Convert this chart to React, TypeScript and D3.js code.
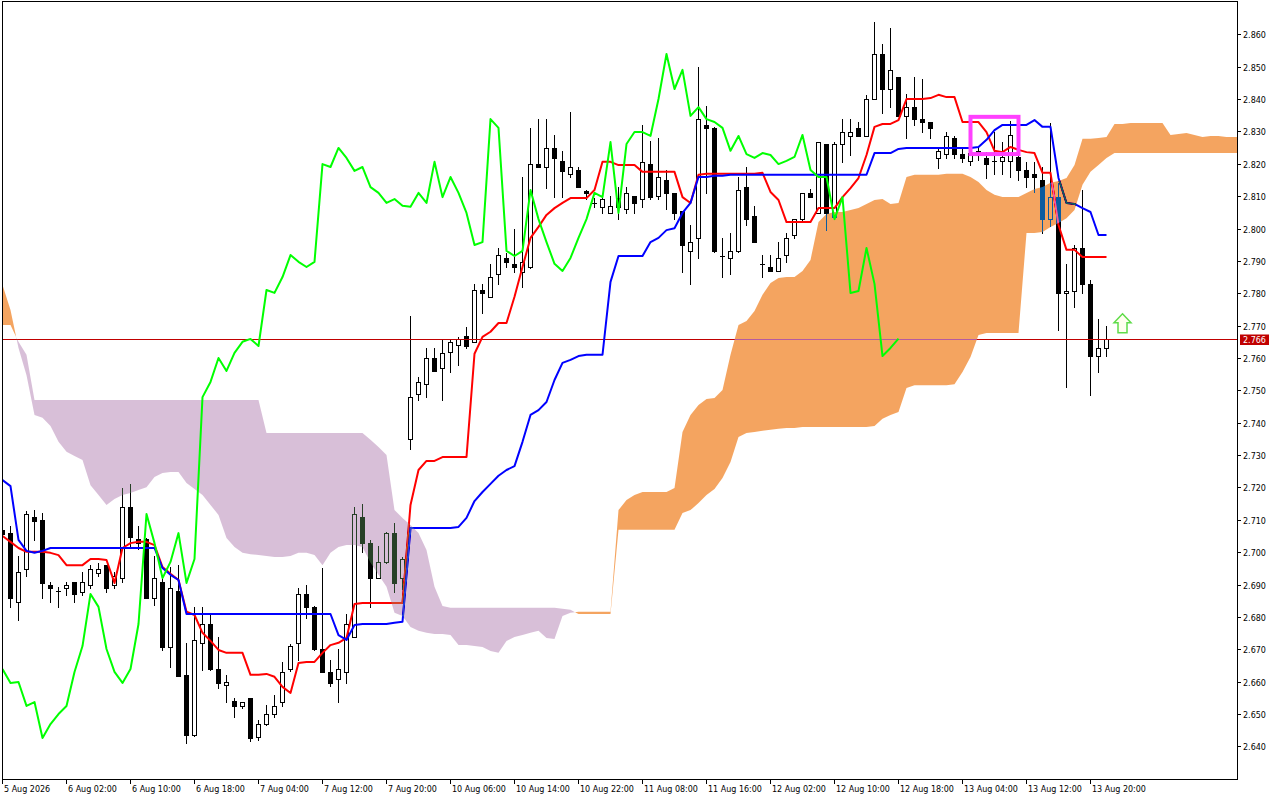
import * as d3 from 'd3';

// H1 candles (bar 0 = 5 Aug 2026 18:00)
const opens = [
  2.7069, 2.7059, 2.6846, 2.6948, 2.7109, 2.7100, 2.6899, 2.6880, 2.6889, 2.6908,
  2.6877, 2.6899, 2.6936, 2.6960, 2.6899, 2.6920, 2.7140, 2.7041, 2.7041, 2.6859,
  2.6908, 2.6707, 2.6880, 2.6621, 2.6435, 2.6720, 2.6778, 2.6639, 2.6590, 2.6541,
  2.6525, 2.6550, 2.6429, 2.6469, 2.6500, 2.6537, 2.6639, 2.6720, 2.6871, 2.6831,
  2.6701, 2.6630, 2.6608, 2.6630, 2.6738, 2.7109, 2.7028, 2.6920, 2.6970, 2.7059,
  2.6920, 2.7350, 2.7489, 2.7519, 2.7600, 2.7569, 2.7619, 2.7640, 2.7668, 2.7650,
  2.7810, 2.7789, 2.7860, 2.7909, 2.7891, 2.7866, 2.7881, 2.8199, 2.8190, 2.8249,
  2.8209, 2.8169, 2.8181, 2.8116, 2.8079, 2.8067, 2.8048, 2.8094, 2.8060, 2.8101,
  2.8091, 2.8199, 2.8101, 2.8150, 2.8110, 2.8054, 2.7931, 2.7971, 2.8320, 2.8311,
  2.7915, 2.7909, 2.7931, 2.8128, 2.8039, 2.7891, 2.7881, 2.7869, 2.7918, 2.7980,
  2.8029, 2.8110, 2.8048, 2.8261, 2.8035, 2.8261, 2.8286, 2.8311, 2.8286, 2.8400,
  2.8539, 2.8431, 2.8468, 2.8348, 2.8375, 2.8338, 2.8329, 2.8218, 2.8230, 2.8280,
  2.8230, 2.8209, 2.8240, 2.8218, 2.8209, 2.8209, 2.8209, 2.8221, 2.8181, 2.8169,
  2.8150, 2.8029, 2.8097, 2.7801, 2.7807, 2.7940, 2.7829, 2.7606, 2.7631,
];
const highs = [
  2.7081, 2.7081, 2.6988, 2.7127, 2.7130, 2.7121, 2.6908, 2.6893, 2.6908, 2.6908,
  2.6939, 2.6960, 2.6967, 2.6960, 2.6939, 2.7198, 2.7211, 2.7081, 2.7044, 2.6988,
  2.6923, 2.6954, 2.6960, 2.6720, 2.6831, 2.6831, 2.6806, 2.6738, 2.6621, 2.6550,
  2.6537, 2.6550, 2.6482, 2.6528, 2.6559, 2.6661, 2.6717, 2.6889, 2.6899, 2.6834,
  2.6951, 2.6667, 2.6701, 2.6809, 2.7140, 2.7149, 2.7038, 2.7019, 2.7062, 2.7090,
  2.6985, 2.7730, 2.7541, 2.7631, 2.7631, 2.7659, 2.7659, 2.7665, 2.7696, 2.7829,
  2.7829, 2.7891, 2.7940, 2.7925, 2.7998, 2.8159, 2.8311, 2.8338, 2.8338, 2.8289,
  2.8240, 2.8360, 2.8190, 2.8119, 2.8094, 2.8104, 2.8101, 2.8128, 2.8128, 2.8101,
  2.8320, 2.8270, 2.8280, 2.8181, 2.8110, 2.8054, 2.8011, 2.8499, 2.8379, 2.8314,
  2.7971, 2.7986, 2.8159, 2.8190, 2.8070, 2.7918, 2.7918, 2.7958, 2.7986, 2.8029,
  2.8110, 2.8122, 2.8267, 2.8261, 2.8267, 2.8338, 2.8338, 2.8329, 2.8413, 2.8638,
  2.8570, 2.8619, 2.8468, 2.8416, 2.8468, 2.8462, 2.8329, 2.8246, 2.8298, 2.8286,
  2.8249, 2.8249, 2.8252, 2.8236, 2.8298, 2.8267, 2.8332, 2.8258, 2.8206, 2.8206,
  2.8190, 2.8326, 2.8141, 2.7891, 2.7949, 2.8119, 2.7841, 2.7721, 2.7699,
];
const lows = [
  2.7050, 2.6831, 2.6791, 2.6926, 2.7038, 2.6859, 2.6846, 2.6831, 2.6868, 2.6846,
  2.6868, 2.6889, 2.6926, 2.6877, 2.6889, 2.6908, 2.7016, 2.7010, 2.6859, 2.6837,
  2.6698, 2.6646, 2.6618, 2.6411, 2.6432, 2.6636, 2.6636, 2.6581, 2.6537, 2.6491,
  2.6519, 2.6417, 2.6420, 2.6466, 2.6491, 2.6525, 2.6633, 2.6667, 2.6797, 2.6698,
  2.6630, 2.6587, 2.6537, 2.6596, 2.6738, 2.7001, 2.6831, 2.6920, 2.6967, 2.6877,
  2.6886, 2.7319, 2.7470, 2.7479, 2.7560, 2.7470, 2.7557, 2.7578, 2.7631, 2.7650,
  2.7739, 2.7789, 2.7829, 2.7881, 2.7866, 2.7820, 2.7878, 2.8190, 2.8125, 2.8097,
  2.8097, 2.8159, 2.8128, 2.8091, 2.8067, 2.8048, 2.8048, 2.8029, 2.8048, 2.8048,
  2.8067, 2.8091, 2.8091, 2.8060, 2.8029, 2.7866, 2.7829, 2.7909, 2.8110, 2.7928,
  2.7850, 2.7860, 2.7928, 2.8011, 2.7958, 2.7850, 2.7869, 2.7869, 2.7897, 2.7971,
  2.8020, 2.8097, 2.8048, 2.7995, 2.8035, 2.8206, 2.8227, 2.8286, 2.8286, 2.8400,
  2.8357, 2.8375, 2.8348, 2.8280, 2.8320, 2.8298, 2.8280, 2.8187, 2.8218, 2.8218,
  2.8206, 2.8196, 2.8212, 2.8156, 2.8169, 2.8169, 2.8159, 2.8150, 2.8128, 2.8113,
  2.7986, 2.8008, 2.7687, 2.7510, 2.7758, 2.7801, 2.7486, 2.7557, 2.7606,
];
const closes = [
  2.7056, 2.6859, 2.6939, 2.7118, 2.7097, 2.6905, 2.6889, 2.6880, 2.6899, 2.6871,
  2.6908, 2.6948, 2.6948, 2.6889, 2.6926, 2.7140, 2.7047, 2.7028, 2.6859, 2.6920,
  2.6707, 2.6889, 2.6618, 2.6435, 2.6729, 2.6778, 2.6639, 2.6596, 2.6599, 2.6525,
  2.6537, 2.6426, 2.6469, 2.6500, 2.6525, 2.6630, 2.6710, 2.6871, 2.6831, 2.6701,
  2.6630, 2.6596, 2.6639, 2.6778, 2.7118, 2.7028, 2.6920, 2.6970, 2.7059, 2.6905,
  2.6979, 2.7479, 2.7526, 2.7600, 2.7560, 2.7616, 2.7650, 2.7659, 2.7637, 2.7810,
  2.7801, 2.7850, 2.7918, 2.7897, 2.7881, 2.7897, 2.8199, 2.8190, 2.8249, 2.8218,
  2.8178, 2.8190, 2.8128, 2.8110, 2.8079, 2.8091, 2.8070, 2.8067, 2.8110, 2.8079,
  2.8206, 2.8097, 2.8159, 2.8110, 2.8048, 2.7949, 2.7958, 2.8338, 2.8311, 2.7931,
  2.7915, 2.7931, 2.8119, 2.8029, 2.7958, 2.7891, 2.7869, 2.7909, 2.7971, 2.8029,
  2.8110, 2.8097, 2.8267, 2.8048, 2.8261, 2.8298, 2.8298, 2.8286, 2.8400, 2.8539,
  2.8431, 2.8490, 2.8348, 2.8375, 2.8338, 2.8329, 2.8311, 2.8240, 2.8286, 2.8230,
  2.8218, 2.8233, 2.8227, 2.8199, 2.8209, 2.8221, 2.8289, 2.8181, 2.8159, 2.8159,
  2.8029, 2.8097, 2.7801, 2.7807, 2.7940, 2.7829, 2.7606, 2.7631, 2.7660,
];

// Ichimoku lines as drawn
const tenkan = [
  2.7050, 2.7032, 2.7013, 2.7001, 2.7001, 2.7001, 2.6998, 2.6991, 2.6960, 2.6960,
  2.6960, 2.6979, 2.6979, 2.6976, 2.6905, 2.7013, 2.7028, 2.7032, 2.7032, 2.7022,
  2.6954, 2.6933, 2.6914, 2.6816, 2.6806, 2.6751, 2.6726, 2.6698, 2.6689, 2.6689,
  2.6689, 2.6621, 2.6621, 2.6624, 2.6615, 2.6584, 2.6565, 2.6658, 2.6661, 2.6661,
  2.6689, 2.6713, 2.6720, 2.6735, 2.6840, 2.6843, 2.6843, 2.6843, 2.6843, 2.6843,
  2.6843, 2.7146, 2.7254, 2.7282, 2.7282, 2.7294, 2.7294, 2.7294, 2.7294, 2.7613,
  2.7665, 2.7681, 2.7708, 2.7708, 2.7789, 2.7881, 2.7971, 2.8005, 2.8042, 2.8063,
  2.8079, 2.8094, 2.8094, 2.8094, 2.8119, 2.8206, 2.8206, 2.8196, 2.8196, 2.8196,
  2.8175, 2.8175, 2.8175, 2.8175, 2.8175, 2.8097, 2.8079, 2.8166, 2.8169, 2.8169,
  2.8169, 2.8169, 2.8169, 2.8169, 2.8169, 2.8172, 2.8113, 2.8088, 2.8020, 2.8020,
  2.8020, 2.8020, 2.8063, 2.8063, 2.8063, 2.8097, 2.8125, 2.8156, 2.8227, 2.8314,
  2.8323, 2.8323, 2.8335, 2.8400, 2.8400, 2.8400, 2.8403, 2.8413, 2.8406, 2.8406,
  2.8329, 2.8329, 2.8329, 2.8298, 2.8240, 2.8236, 2.8252, 2.8243, 2.8236, 2.8233,
  2.8172, 2.8172, 2.8011, 2.7934, 2.7934, 2.7912, 2.7912, 2.7912, 2.7912,
];
const kijun = [
  2.7223, 2.7204, 2.7038, 2.7004, 2.6998, 2.7004, 2.7013, 2.7013, 2.7013, 2.7013,
  2.7013, 2.7013, 2.7013, 2.7013, 2.7013, 2.7013, 2.7013, 2.7013, 2.7013, 2.7013,
  2.6951, 2.6930, 2.6914, 2.6809, 2.6809, 2.6809, 2.6809, 2.6809, 2.6809, 2.6809,
  2.6809, 2.6809, 2.6809, 2.6809, 2.6809, 2.6809, 2.6809, 2.6809, 2.6809, 2.6809,
  2.6809, 2.6809, 2.6744, 2.6729, 2.6775, 2.6778, 2.6778, 2.6778, 2.6778, 2.6782,
  2.6785, 2.7075, 2.7075, 2.7075, 2.7075, 2.7075, 2.7075, 2.7078, 2.7106, 2.7158,
  2.7186, 2.7211, 2.7236, 2.7254, 2.7266, 2.7341, 2.7424, 2.7439, 2.7464, 2.7532,
  2.7585, 2.7594, 2.7606, 2.7610, 2.7610, 2.7610, 2.7835, 2.7915, 2.7915, 2.7915,
  2.7915, 2.7958, 2.7971, 2.7995, 2.8001, 2.8048, 2.8079, 2.8159, 2.8159, 2.8163,
  2.8163, 2.8166, 2.8166, 2.8166, 2.8166, 2.8166, 2.8166, 2.8166, 2.8166, 2.8166,
  2.8166, 2.8166, 2.8166, 2.8166, 2.8166, 2.8166, 2.8166, 2.8166, 2.8166, 2.8233,
  2.8233, 2.8233, 2.8246, 2.8249, 2.8249, 2.8249, 2.8249, 2.8249, 2.8249, 2.8249,
  2.8249, 2.8249, 2.8252, 2.8274, 2.8304, 2.8320, 2.8320, 2.8320, 2.8320, 2.8335,
  2.8314, 2.8314, 2.8156, 2.8079, 2.8076, 2.8063, 2.8051, 2.7980, 2.7980,
];
// Senkou spans, already shifted forward (one value per bar slot on screen)
const spanA = [
  2.7826, 2.7748, 2.7631, 2.7547, 2.7424, 2.7415, 2.7390, 2.7341, 2.7310, 2.7297,
  2.7285, 2.7207, 2.7177, 2.7146, 2.7164, 2.7177, 2.7183, 2.7192, 2.7201, 2.7232,
  2.7245, 2.7248, 2.7248, 2.7214, 2.7195, 2.7177, 2.7146, 2.7115, 2.7044, 2.7016,
  2.6998, 2.6994, 2.6991, 2.6988, 2.6985, 2.6985, 2.6988, 2.6998, 2.6998, 2.6991,
  2.6960, 2.6998, 2.7016, 2.7022, 2.7022, 2.7016, 2.6967, 2.6930, 2.6893, 2.6813,
  2.6803, 2.6769, 2.6757, 2.6751, 2.6747, 2.6747, 2.6744, 2.6713, 2.6713, 2.6710,
  2.6707, 2.6695, 2.6689, 2.6726, 2.6738, 2.6744, 2.6751, 2.6757, 2.6735, 2.6732,
  2.6803, 2.6813, 2.6816, 2.6816, 2.6816, 2.6816, 2.6816, 2.7130, 2.7161, 2.7177,
  2.7186, 2.7186, 2.7186, 2.7186, 2.7198, 2.7371, 2.7424, 2.7455, 2.7473, 2.7476,
  2.7501, 2.7610, 2.7702, 2.7714, 2.7745, 2.7795, 2.7832, 2.7847, 2.7850, 2.7850,
  2.7869, 2.7903, 2.8020, 2.8045, 2.8051, 2.8051, 2.8057, 2.8063, 2.8076, 2.8088,
  2.8091, 2.8076, 2.8079, 2.8159, 2.8166, 2.8166, 2.8166, 2.8166, 2.8169, 2.8169,
  2.8169, 2.8159, 2.8144, 2.8119, 2.8104, 2.8097, 2.8097, 2.8097, 2.8110, 2.8122,
  2.8128, 2.8141, 2.8147, 2.8156, 2.8196, 2.8277, 2.8277, 2.8280, 2.8283, 2.8323,
  2.8323, 2.8326, 2.8326, 2.8326, 2.8326, 2.8326, 2.8289, 2.8292, 2.8295, 2.8289,
  2.8283, 2.8286, 2.8286, 2.8283, 2.8283, 2.8283,
];
const spanB = [
  2.7702, 2.7702, 2.7650, 2.7610, 2.7470, 2.7470, 2.7470, 2.7470, 2.7470, 2.7470,
  2.7470, 2.7470, 2.7470, 2.7470, 2.7470, 2.7470, 2.7470, 2.7470, 2.7470, 2.7470,
  2.7470, 2.7470, 2.7470, 2.7470, 2.7470, 2.7470, 2.7470, 2.7470, 2.7470, 2.7470,
  2.7470, 2.7470, 2.7470, 2.7368, 2.7368, 2.7368, 2.7368, 2.7368, 2.7368, 2.7368,
  2.7368, 2.7368, 2.7368, 2.7368, 2.7368, 2.7368, 2.7347, 2.7325, 2.7300, 2.7130,
  2.7106, 2.7084, 2.7059, 2.7007, 2.6893, 2.6834, 2.6828, 2.6828, 2.6828, 2.6828,
  2.6828, 2.6828, 2.6828, 2.6828, 2.6828, 2.6828, 2.6828, 2.6828, 2.6828, 2.6828,
  2.6825, 2.6822, 2.6809, 2.6809, 2.6809, 2.6809, 2.6809, 2.7069, 2.7069, 2.7069,
  2.7069, 2.7069, 2.7069, 2.7069, 2.7069, 2.7121, 2.7130, 2.7152, 2.7177, 2.7195,
  2.7229, 2.7279, 2.7356, 2.7368, 2.7371, 2.7375, 2.7378, 2.7381, 2.7384, 2.7384,
  2.7387, 2.7387, 2.7387, 2.7387, 2.7387, 2.7387, 2.7387, 2.7387, 2.7387, 2.7390,
  2.7412, 2.7424, 2.7433, 2.7507, 2.7516, 2.7516, 2.7516, 2.7516, 2.7516, 2.7519,
  2.7557, 2.7603, 2.7671, 2.7677, 2.7677, 2.7677, 2.7677, 2.7677, 2.7986, 2.7986,
  2.7989, 2.8005, 2.8017, 2.8032, 2.8057, 2.8135, 2.8175, 2.8196, 2.8218, 2.8233,
  2.8233, 2.8233, 2.8233, 2.8233, 2.8233, 2.8233, 2.8233, 2.8233, 2.8233, 2.8233,
  2.8233, 2.8233, 2.8233, 2.8233, 2.8233, 2.8233,
];
const CHIKOU_SHIFT = 26;

const timeLabels = [
  '5 Aug 2026', '6 Aug 02:00', '6 Aug 10:00', '6 Aug 18:00', '7 Aug 04:00', '7 Aug 12:00',
  '7 Aug 20:00', '10 Aug 06:00', '10 Aug 14:00', '10 Aug 22:00', '11 Aug 08:00', '11 Aug 16:00',
  '12 Aug 02:00', '12 Aug 10:00', '12 Aug 18:00', '13 Aug 04:00', '13 Aug 12:00', '13 Aug 20:00',
];
const BARS_PER_LABEL = 8;
const priceTicks = [
  2.64, 2.65, 2.66, 2.67, 2.68, 2.69, 2.70, 2.71, 2.72, 2.73, 2.74, 2.75,
  2.76, 2.77, 2.78, 2.79, 2.80, 2.81, 2.82, 2.83, 2.84, 2.85, 2.86,
];

// chart objects
const boxBars = [121, 127];
const boxPrices = [2.8345, 2.8230];
const arrowBar = 140;
const arrowPrice = 2.7678;

const W = 1280;
const H = 800;
const frame = { left: 2, right: 1237, top: 2, bottom: 779 };
const FONT = '"DejaVu Sans", Verdana, sans-serif';

type CloudPt = { k: number; a: number; b: number };

export default function App() {
  const x = d3.scaleLinear().domain([0, 1]).range([2.5, 10.5]);
  const y = d3.scaleLinear().domain([2.64, 2.86]).range([746.4, 34.3]);
  const py = (v: number) => Math.round(y(v)) + 0.5;

  const line = d3
    .line<number>()
    .x((_, i) => x(i))
    .y((v) => y(v));

  const chikou = closes.slice(CHIKOU_SHIFT);

  // cloud points with crossings inserted so each colour closes exactly
  const pts: CloudPt[] = [];
  spanA.forEach((a, i) => {
    const b = spanB[i];
    if (i > 0) {
      const d0 = spanA[i - 1] - spanB[i - 1];
      const d1 = a - b;
      if (d0 * d1 < 0) {
        const t = d0 / (d0 - d1);
        const v = spanA[i - 1] + t * (a - spanA[i - 1]);
        pts.push({ k: i - 1 + t, a: v, b: v });
      }
    }
    pts.push({ k: i, a, b });
  });
  const upArea = d3
    .area<CloudPt>()
    .x((d) => x(d.k))
    .y0((d) => y(d.b))
    .y1((d) => y(Math.max(d.a, d.b)));
  const downArea = d3
    .area<CloudPt>()
    .x((d) => x(d.k))
    .y0((d) => y(d.a))
    .y1((d) => y(Math.max(d.a, d.b)));

  const last = closes[closes.length - 1];
  const lastY = py(last);

  const ax = x(arrowBar);
  const ay = y(arrowPrice);
  const arrow = [
    [0, -19], [8.5, -10], [4.5, -10], [4.5, 0], [-4.5, 0], [-4.5, -10], [-8.5, -10],
  ]
    .map(([dx, dy]) => `${ax + dx},${ay + dy}`)
    .join(' ');

  return (
    <svg
      width={W}
      height={H}
      style={{ position: 'absolute', left: 0, top: 0, display: 'block' }}
      fontFamily={FONT}
    >
      <defs>
        <clipPath id="plot">
          <rect x={frame.left + 1} y={frame.top} width={frame.right - frame.left - 1} height={frame.bottom - frame.top} />
        </clipPath>
      </defs>
      <rect width={W} height={H} fill="#ffffff" />

      <g clipPath="url(#plot)">
        {/* backdrop inside the clipped group so the kumo blend has something to mix with */}
        <rect x={0} y={0} width={W} height={H} fill="#ffffff" />

        {/* candles */}
        <g shapeRendering="crispEdges">
          {opens.map((o, i) => {
            const c = closes[i];
            const cx = x(i);
            const top = py(Math.max(o, c));
            const bot = py(Math.min(o, c));
            return (
              <g key={i}>
                <line x1={cx} x2={cx} y1={Math.round(y(highs[i]))} y2={Math.round(y(lows[i])) + 1} stroke="#000" />
                {bot - top < 1 ? (
                  <line x1={cx - 2.5} x2={cx + 2.5} y1={top} y2={top} stroke="#000" />
                ) : (
                  <rect x={cx - 2} y={top} width={4} height={bot - top} fill={c >= o ? '#fff' : '#000'} stroke="#000" />
                )}
              </g>
            );
          })}
        </g>

        {/* bid line */}
        <line x1={frame.left} x2={frame.right} y1={lastY} y2={lastY} stroke="#c00000" shapeRendering="crispEdges" />

        <path d={line(tenkan) ?? ''} fill="none" stroke="#ff0000" strokeWidth={2} strokeLinejoin="round" />
        <path d={line(kijun) ?? ''} fill="none" stroke="#0000ff" strokeWidth={2} strokeLinejoin="round" />

        {/* kumo: inverted colours with difference blend, like the terminal's xor fill */}
        <path d={upArea(pts) ?? ''} fill="#0b5b9f" style={{ mixBlendMode: 'difference' }} />
        <path d={downArea(pts) ?? ''} fill="#274027" style={{ mixBlendMode: 'difference' }} />

        <path d={line(chikou) ?? ''} fill="none" stroke="#00ff00" strokeWidth={2} strokeLinejoin="round" />

        {/* objects */}
        <rect
          x={x(boxBars[0])}
          y={y(boxPrices[0])}
          width={x(boxBars[1]) - x(boxBars[0])}
          height={y(boxPrices[1]) - y(boxPrices[0])}
          fill="none"
          stroke="#ff40ff"
          strokeWidth={4}
        />
        <polygon points={arrow} fill="#fffff0" stroke="#5fdc4a" strokeWidth={1.5} strokeLinejoin="miter" />
      </g>

      {/* frame and axes */}
      <g shapeRendering="crispEdges" stroke="#000" fill="none">
        <rect x={frame.left + 0.5} y={frame.top - 0.5} width={frame.right - frame.left} height={frame.bottom - frame.top + 1} />
        {priceTicks.map((p) => (
          <line key={p} x1={frame.right} x2={frame.right + 4} y1={py(p)} y2={py(p)} />
        ))}
        {timeLabels.map((_, i) => (
          <line key={i} x1={x(i * BARS_PER_LABEL)} x2={x(i * BARS_PER_LABEL)} y1={frame.bottom} y2={frame.bottom + 5} />
        ))}
      </g>
      <g fontSize={8} fill="#000">
        {priceTicks.map((p) => (
          <text key={p} x={frame.right + 6} y={py(p) + 3}>
            {p.toFixed(3)}
          </text>
        ))}
        {timeLabels.map((t, i) => (
          <text key={t} x={x(i * BARS_PER_LABEL) + 1.5} y={792}>
            {t}
          </text>
        ))}
      </g>

      {/* last price tag */}
      <rect x={frame.right + 3} y={lastY - 5} width={29} height={10.5} fill="#c00000" />
      <text x={frame.right + 6} y={lastY + 3} fontSize={8} fill="#ffffff">
        {last.toFixed(3)}
      </text>
    </svg>
  );
}
